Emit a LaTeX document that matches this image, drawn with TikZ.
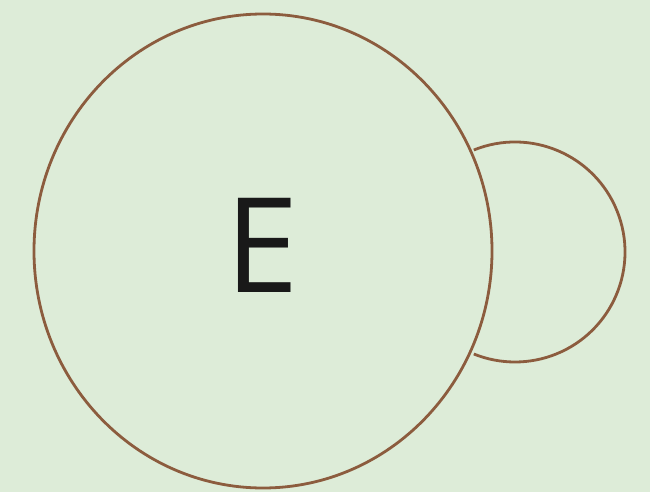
\documentclass[tikz,border=0pt]{standalone}
\usepackage{fontspec}
\newfontfamily\efont{Open Sans}
\definecolor{bg}{RGB}{221,236,216}
\definecolor{rim}{RGB}{140,92,62}
\begin{document}
\begin{tikzpicture}[x=1pt,y=-1pt,
  outline/.style={draw=rim,line width=2.8pt}]
\fill[bg] (0,0) rectangle (650,492);
\useasboundingbox (0,0) rectangle (650,492);
\draw[outline] (263,251) ellipse [x radius=229,y radius=237];
\draw[outline] (515,252) ++(-112:110) arc[start angle=-112,end angle=112,radius=110];
\node[font={\efont\fontsize{132}{132}\selectfont},text=black!90,inner sep=0] (E) at (262,245) {E};
\end{tikzpicture}
\end{document}
